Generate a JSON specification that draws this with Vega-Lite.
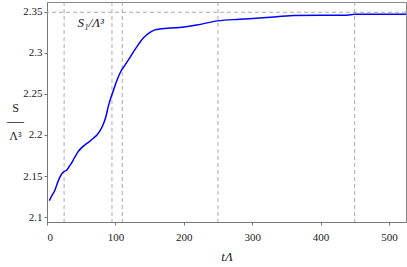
{
  "$schema": "https://vega.github.io/schema/vega-lite/v6.json",
  "width": 359,
  "height": 220,
  "autosize": {"type": "none"},
  "padding": {"left": 47, "top": 2, "right": 1, "bottom": 45},
  "background": "white",
  "config": {
    "view": {"stroke": "#888", "strokeWidth": 1},
    "font": "serif",
    "axis": {
      "grid": false,
      "domainColor": "#777",
      "tickColor": "#777",
      "labelColor": "#222",
      "titleColor": "#222",
      "labelFont": "serif",
      "titleFont": "serif",
      "labelFontSize": 11,
      "titleFontSize": 13,
      "titleFontWeight": "normal",
      "tickSize": 3
    }
  },
  "datasets": {
    "curve": [
      {"t": 3.4, "s": 2.120}, {"t": 7, "s": 2.126}, {"t": 11.7, "s": 2.133},
      {"t": 15, "s": 2.141}, {"t": 19, "s": 2.149}, {"t": 23.8, "s": 2.155},
      {"t": 28.8, "s": 2.157}, {"t": 32, "s": 2.161}, {"t": 36, "s": 2.166},
      {"t": 40, "s": 2.172}, {"t": 45.8, "s": 2.180}, {"t": 50, "s": 2.184},
      {"t": 55.6, "s": 2.188}, {"t": 62, "s": 2.192}, {"t": 67.7, "s": 2.196},
      {"t": 73, "s": 2.200}, {"t": 77.5, "s": 2.205}, {"t": 82.3, "s": 2.213},
      {"t": 86, "s": 2.222}, {"t": 90, "s": 2.236}, {"t": 97, "s": 2.254},
      {"t": 102, "s": 2.266}, {"t": 107.7, "s": 2.277}, {"t": 114, "s": 2.285},
      {"t": 121, "s": 2.294}, {"t": 131, "s": 2.307}, {"t": 140.8, "s": 2.318},
      {"t": 150.6, "s": 2.325}, {"t": 158, "s": 2.328}, {"t": 165, "s": 2.329},
      {"t": 194, "s": 2.331}, {"t": 218.8, "s": 2.334}, {"t": 249.6, "s": 2.339},
      {"t": 282, "s": 2.341}, {"t": 321, "s": 2.343}, {"t": 360, "s": 2.3455},
      {"t": 400, "s": 2.346}, {"t": 438, "s": 2.346}, {"t": 450, "s": 2.347},
      {"t": 490, "s": 2.347}, {"t": 525, "s": 2.347}
    ],
    "vlines": [{"t": 25}, {"t": 95}, {"t": 110}, {"t": 250}, {"t": 450}],
    "hline": [{"s": 2.3495}],
    "label": [{"t": 64, "s": 2.3365, "text": "S₁/Λ³"}]
  },
  "layer": [
    {
      "data": {"name": "vlines"},
      "mark": {"type": "rule", "color": "#aaa", "strokeDash": [4, 3], "strokeWidth": 1},
      "encoding": {
        "x": {
          "field": "t", "type": "quantitative",
          "scale": {"domain": [0, 525], "nice": false, "zero": false},
          "axis": {
            "values": [0, 100, 200, 300, 400, 500],
            "title": "tΛ",
            "titleFontStyle": "italic",
            "labelPadding": 6,
            "titlePadding": 8
          }
        }
      }
    },
    {
      "data": {"name": "hline"},
      "mark": {"type": "rule", "color": "#aaa", "strokeDash": [4, 3], "strokeWidth": 1},
      "encoding": {
        "y": {
          "field": "s", "type": "quantitative",
          "scale": {"domain": [2.094, 2.362], "nice": false, "zero": false},
          "axis": {
            "values": [2.1, 2.15, 2.2, 2.25, 2.3, 2.35],
            "format": ".2~f",
            "title": ["S", "──", "Λ³"],
            "titleAngle": 0,
            "titleX": -32,
            "titleY": 105,
            "titleAlign": "center",
            "titleBaseline": "middle",
            "titleLineHeight": 14,
            "titleFontSize": 12,
            "labelPadding": 2
          }
        }
      }
    },
    {
      "data": {"name": "curve"},
      "mark": {"type": "line", "color": "#0000ff", "strokeWidth": 1.5, "interpolate": "monotone", "clip": true},
      "encoding": {
        "x": {"field": "t", "type": "quantitative"},
        "y": {"field": "s", "type": "quantitative"}
      }
    },
    {
      "data": {"name": "label"},
      "mark": {"type": "text", "font": "serif", "fontSize": 13, "fontStyle": "italic", "color": "#222"},
      "encoding": {
        "x": {"field": "t", "type": "quantitative"},
        "y": {"field": "s", "type": "quantitative"},
        "text": {"field": "text"}
      }
    }
  ]
}
